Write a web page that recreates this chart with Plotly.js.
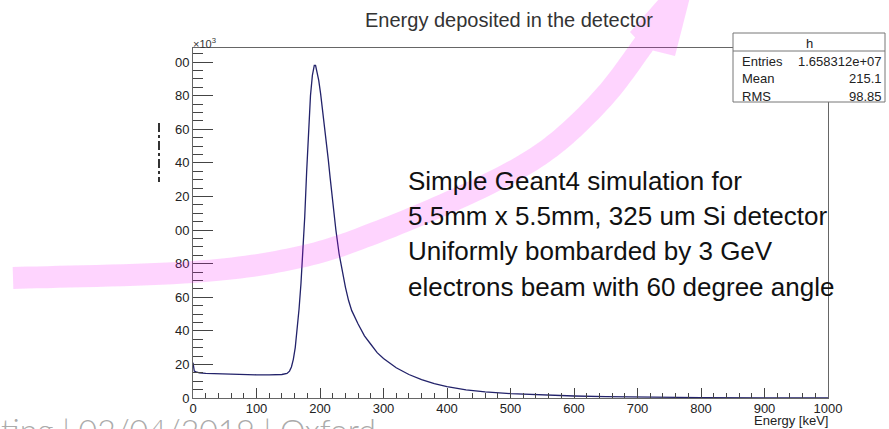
<!DOCTYPE html>
<html><head><meta charset="utf-8">
<script src="https://cdn.plot.ly/plotly-3.0.1.min.js"></script>
<style>html,body{margin:0;padding:0;background:#fff;} #chart{width:889px;height:429px;}</style>
</head><body><div id="chart"></div>
<script>
// ---- data (counts in units of 10^3) ----
const energyKeV = [0,1,2,5,10,20,40,60,80,100,120,140,148,152,155,158,161,164,167,170,173,176,179,182,185,188,191,193,195,198,201,204,207,210,213,216,219,222,225,230,235,240,245,250,260,270,280,290,300,320,340,360,380,400,430,460,500,550,600,650,700,800,900,1000];
const countsK = [21,17,16,15.5,15,14.6,14.3,14.1,13.9,13.8,13.8,14.0,14.6,16,18.5,23,30,40,53,68,85,108,135,160,180,192,198,198,195,189,181,172,163,153,142,131,120,110,100,86,75,66,58,52,44,37,32,27,23.5,18,14,11,8.6,6.8,4.8,3.6,2.6,1.8,1.2,0.8,0.5,0.25,0.12,0.05];
const xTickVals = [0,100,200,300,400,500,600,700,800,900,1000];
const yTickVals = [0,20,40,60,80,100,120,140,160,180,200];
const yTickText = ['0','20','40','60','80','00','20','40','60','80','00'];
const chartTitle = 'Energy deposited in the detector';
const xTitle = 'Energy [keV]';
const noteLines = ['Simple Geant4 simulation for','5.5mm x 5.5mm, 325 um Si detector','Uniformly bombarded by 3 GeV','electrons beam with 60 degree angle'];
const statsName = 'h';
const statsLabels = ['Entries','Mean','RMS'];
const statsValues = ['1.658312e+07','215.1','98.85'];
const footerText = 'ting | 02/04/2019 | Oxford';

// ---- geometry helpers (pixel -> paper) ----
const W=889,H=429,L=193,R=61,T=48,B=31;
const pw=W-L-R, ph=H-T-B;
const X = p => (p-L)/pw;
const Y = p => (H-B-p)/ph;
const FONT = 'Liberation Sans, Arial, Helvetica, sans-serif';

// ---- decorative pink arrow ----
const spine = [[13,278],[193,272],[300,257],[380,231],[480,188],[547,150],[603,98],[644,44]];
function catmull(pts,n){const out=[];for(let i=0;i<pts.length-1;i++){const p0=pts[Math.max(i-1,0)],p1=pts[i],p2=pts[i+1],p3=pts[Math.min(i+2,pts.length-1)];for(let k=0;k<n;k++){const t=k/n,t2=t*t,t3=t2*t;const f=(a,b,c,d)=>0.5*((2*b)+(-a+c)*t+(2*a-5*b+4*c-d)*t2+(-a+3*b-3*c+d)*t3);out.push([f(p0[0],p1[0],p2[0],p3[0]),f(p0[1],p1[1],p2[1],p3[1])]);}}out.push(pts[pts.length-1]);return out;}
const sp = catmull(spine,16);
const hw = 11;
const plus=[],minus=[];
for(let i=0;i<sp.length;i++){
  const a=sp[Math.max(i-1,0)], b=sp[Math.min(i+1,sp.length-1)];
  let tx=b[0]-a[0], ty=b[1]-a[1]; const len=Math.hypot(tx,ty); tx/=len; ty/=len;
  const nx=-ty, ny=tx;
  plus.push([sp[i][0]+nx*hw, sp[i][1]+ny*hw]);
  minus.push([sp[i][0]-nx*hw, sp[i][1]-ny*hw]);
}
const head = [[630,32],[702,-50],[675,56]];
const poly = minus.concat(head, plus.slice().reverse());
const arrowPath = 'M ' + poly.map(p=>X(p[0]).toFixed(5)+','+Y(p[1]).toFixed(5)).join(' L ') + ' Z';

const shapes = [
  {type:'path', xref:'paper', yref:'paper', path:arrowPath, fillcolor:'rgba(250,0,250,0.17)', line:{width:0}, layer:'above'},
  {type:'line', xref:'paper', yref:'paper', x0:X(159), x1:X(159), y0:Y(123), y1:Y(182), line:{color:'#000', width:1.6, dash:'dashdot'}},
  {type:'rect', xref:'paper', yref:'paper', x0:X(733), x1:X(885), y0:Y(33), y1:Y(102), fillcolor:'#fff', line:{color:'#777', width:1}, layer:'above'},
  {type:'line', xref:'paper', yref:'paper', x0:X(733), x1:X(885), y0:Y(51), y1:Y(51), line:{color:'#777', width:1}, layer:'above'}
];

const ann = [];
const lineY = [181,216,251,286.5];
noteLines.forEach((t,i)=>ann.push({text:t, xref:'paper', yref:'paper', x:X(407), y:Y(lineY[i]), xanchor:'left', yanchor:'middle', showarrow:false, borderpad:0, font:{family:FONT, size:26, color:'#111'}}));
ann.push({text:statsName, xref:'paper', yref:'paper', x:X(809), y:Y(43), xanchor:'center', yanchor:'middle', showarrow:false, borderpad:0, font:{family:FONT, size:13, color:'#222'}});
const statY=[61,79,96];
statsLabels.forEach((t,i)=>{
  ann.push({text:t, xref:'paper', yref:'paper', x:X(741), y:Y(statY[i]), xanchor:'left', yanchor:'middle', showarrow:false, borderpad:0, font:{family:FONT, size:13, color:'#222'}});
  ann.push({text:statsValues[i], xref:'paper', yref:'paper', x:X(883), y:Y(statY[i]), xanchor:'right', yanchor:'middle', showarrow:false, borderpad:0, font:{family:FONT, size:13, color:'#222'}});
});
ann.push({text:'×10<sup>3</sup>', xref:'paper', yref:'paper', x:X(192), y:Y(43), xanchor:'left', yanchor:'middle', showarrow:false, borderpad:0, font:{family:FONT, size:11, color:'#333'}});
ann.push({text:xTitle, xref:'paper', yref:'paper', x:X(829), y:Y(420), xanchor:'right', yanchor:'middle', showarrow:false, borderpad:0, font:{family:FONT, size:13, color:'#222'}});
ann.push({text:footerText, xref:'paper', yref:'paper', x:X(0), y:Y(429), xanchor:'left', yanchor:'middle', showarrow:false, borderpad:0, font:{family:'Lato, Open Sans, sans-serif', size:32, color:'#ababab', weight:300}});

const trace = {x:energyKeV, y:countsK, type:'scatter', mode:'lines', line:{color:'#22226a', width:1.3}, hoverinfo:'skip'};

const layout = {
  width:W, height:H, autosize:false,
  margin:{l:L, r:R, t:T, b:B, pad:0},
  paper_bgcolor:'#fff', plot_bgcolor:'#fff',
  showlegend:false,
  title:{text:chartTitle, x:X(509), xref:'paper', xanchor:'center', y:1-19.5/H, yref:'container', yanchor:'middle', font:{family:FONT, size:20, color:'#333'}},
  xaxis:{range:[0,1000], tickmode:'array', tickvals:xTickVals, ticks:'inside', ticklen:10, tickwidth:1, tickcolor:'#444',
    minor:{tickmode:'linear', tick0:0, dtick:20, ticks:'inside', ticklen:5, tickwidth:1, tickcolor:'#444', showgrid:false},
    showline:true, mirror:true, linecolor:'#666', linewidth:1, showgrid:false, zeroline:false, ticklabelstandoff:-2,
    tickfont:{family:FONT, size:13, color:'#222'}},
  yaxis:{range:[0,(H-B-T)/1.68], tickmode:'array', tickvals:yTickVals, ticktext:yTickText, ticks:'inside', ticklen:20, tickwidth:1, tickcolor:'#444',
    minor:{tickmode:'linear', tick0:0, dtick:5, ticks:'inside', ticklen:10, tickwidth:1, tickcolor:'#444', showgrid:false},
    showline:true, mirror:true, linecolor:'#666', linewidth:1, showgrid:false, zeroline:false,
    tickfont:{family:FONT, size:13, color:'#222'}},
  shapes:shapes,
  annotations:ann
};
Plotly.newPlot('chart',[trace],layout,{displayModeBar:false, staticPlot:true});
</script></body></html>
